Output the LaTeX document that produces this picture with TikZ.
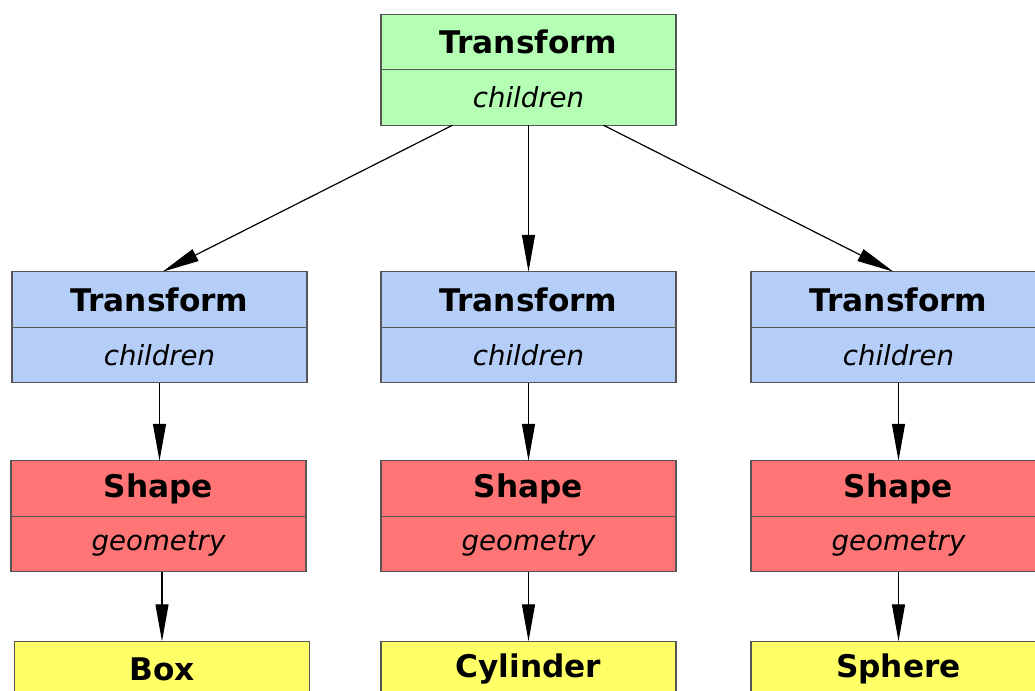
\documentclass[tikz,border=0pt]{standalone}
\usepackage{fontspec}
\setmainfont{DejaVu Sans}
\usetikzlibrary{arrows.meta,positioning}
\definecolor{trgreen}{RGB}{180,255,180}
\definecolor{trblue}{RGB}{180,206,248}
\definecolor{shred}{RGB}{255,117,117}
\definecolor{geoyellow}{RGB}{255,255,102}
\definecolor{boxline}{RGB}{85,85,85}

\begin{document}
\begin{tikzpicture}[x=0.5pt,y=-0.5pt,
    head/.style={draw=boxline,line width=0.6pt,minimum width=147.5pt,minimum height=27.75pt,inner sep=0pt,outer sep=0pt,font=\fontsize{15.6}{18}\selectfont\bfseries},
    part/.style={draw=boxline,line width=0.6pt,minimum width=147.5pt,minimum height=27.75pt,inner sep=0pt,outer sep=0pt,font=\fontsize{13.8}{16}\selectfont\itshape},
    link/.style={draw=black,line width=0.6pt,-{Triangle[length=18.5pt,width=6.5pt]}}]
    \clip (0,0) rectangle (1035,691);
    %Root
    \node[head,fill=trgreen] (top) at (528.5,42) {Transform};
    \node[part,fill=trgreen,below=0pt of top] (topc) {children};

    %Transforms
    \node[head,fill=trblue] (tf1) at (159.5,299.5) {Transform};
    \node[part,fill=trblue,below=0pt of tf1] (ch1) {children};
    \node[head,fill=trblue] (tf2) at (528.5,299.5) {Transform};
    \node[part,fill=trblue,below=0pt of tf2] (ch2) {children};
    \node[head,fill=trblue] (tf3) at (898.5,299.5) {Transform};
    \node[part,fill=trblue,below=0pt of tf3] (ch3) {children};

    %Shapes
    \node[head,fill=shred] (sh1) at (158.5,488.5) {Shape};
    \node[part,fill=shred,below=0pt of sh1] (ge1) {geometry};
    \node[head,fill=shred] (sh2) at (528.5,488.5) {Shape};
    \node[part,fill=shred,below=0pt of sh2] (ge2) {geometry};
    \node[head,fill=shred] (sh3) at (898.5,488.5) {Shape};
    \node[part,fill=shred,below=0pt of sh3] (ge3) {geometry};

    %Geometry
    \node[head,fill=geoyellow] (box) at (162,669) {Box};
    \node[head,fill=geoyellow] (cyl) at (528.5,669) {Cylinder};
    \node[head,fill=geoyellow] (sph) at (898.5,669) {Sphere};

    \draw[link] ([xshift=-38pt]topc.south) -- ([xshift=1.5pt]tf1.north);
    \draw[link] (topc.south) -- (tf2.north);
    \draw[link] ([xshift=37.5pt]topc.south) -- ([xshift=-2.5pt]tf3.north);
    \draw[link] (ch1.south) -- (ch1.south |- sh1.north);
    \draw[link] (ch2.south) -- (sh2.north);
    \draw[link] (ch3.south) -- (sh3.north);
    \draw[link] (box.north |- ge1.south) -- (box.north);
    \draw[link] (ge2.south) -- (cyl.north);
    \draw[link] (ge3.south) -- (sph.north);
\end{tikzpicture}
\end{document}
